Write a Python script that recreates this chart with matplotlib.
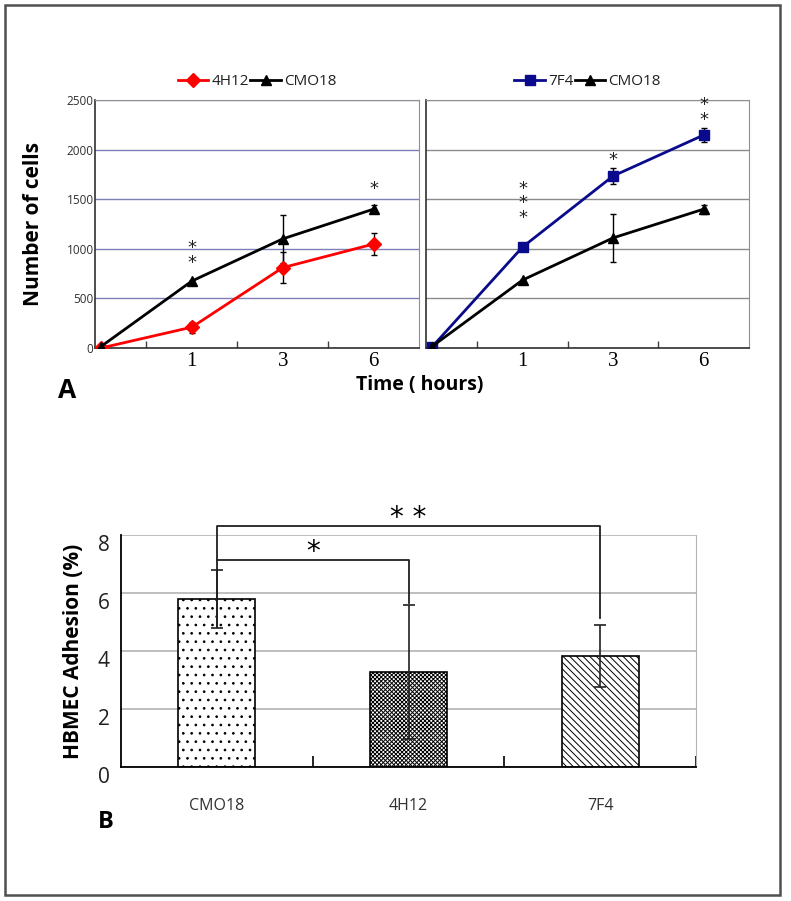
import numpy as np
import matplotlib
matplotlib.use("Agg")
import matplotlib.pyplot as plt
from matplotlib.patches import Rectangle
from matplotlib.transforms import ScaledTranslation

# panel A data: number of adhered cells over time
hours = ["0", "1", "3", "6"]
cmo18_left = [15, 675, 1100, 1400]
cmo18_left_err = [0, 15, 240, 40]
h4h12 = [0, 210, 810, 1048]
h4h12_err = [0, 55, 155, 110]

f7f4 = [10, 1018, 1734, 2147]
f7f4_err = [0, 20, 85, 75]
cmo18_right = [15, 685, 1110, 1400]
cmo18_right_err = [0, 15, 240, 45]

# significance stars (time index, value, number of stars)
stars_left = [(1, 930, 2), (3, 1600, 1)]
stars_right = [(1, 1460, 3), (2, 1900, 1), (3, 2375, 2)]

# panel B data
groups = ["CMO18", "4H12", "7F4"]
adhesion = [5.8, 3.28, 3.83]
adhesion_err = [1.0, 2.3, 1.08]
hatches = ["..", "xxxxxxxx", "\\\\\\\\\\"]

plt.rcParams["font.family"] = ["Open Sans", "DejaVu Sans"]
plt.rcParams["hatch.linewidth"] = 0.7

fig = plt.figure(figsize=(7.91, 9.01), dpi=100)
fig.patches.append(Rectangle((5/791, 1-895/901), 775/791, 890/901, transform=fig.transFigure,
                             fill=False, edgecolor="#505050", lw=1.8))

axL = fig.add_axes([95/791, 1-348/901, 324/791, 248/901])
axR = fig.add_axes([426/791, 1-348/901, 323/791, 248/901])

x = np.arange(len(hours))


def line_panel(ax, series, gridcol, stars):
    handles, labels = [], []
    for vals, err, col, mk, lab in series:
        c = ax.errorbar(x, vals, yerr=err, color=col, marker=mk, ms=7, lw=2,
                        ecolor="black", elinewidth=1, capsize=2.5, capthick=1, zorder=3)
        handles.append(c[0])
        labels.append(lab)
    ax.set_xlim(-0.066, 3.5)
    ax.set_ylim(0, 2500)
    ax.set_yticks([0, 500, 1000, 1500, 2000, 2500])
    ax.grid(axis="y", color=gridcol, lw=1)
    ax.set_axisbelow(True)
    ax.set_xticks(x[1:])
    ax.set_xticklabels(hours[1:], family="Liberation Serif", fontsize=15)
    ax.set_xticks([0.5, 1.5, 2.5], minor=True)
    ax.tick_params(axis="x", which="major", length=0, pad=3)
    ax.tick_params(axis="x", which="minor", direction="in", length=5, width=1, color="#404040")
    for s in ["top", "right"]:
        ax.spines[s].set_color("#909090")
    for s in ["left", "bottom"]:
        ax.spines[s].set_color("#303030")
        ax.spines[s].set_linewidth(1.2)
    for xi, yv, n in stars:
        ax.text(xi, yv, "\n".join(["*"] * n), ha="center", va="center", fontsize=13,
                family="DejaVu Sans", linespacing=0.75, color="#202020")
    ax.legend(handles, labels, loc="lower center", bbox_to_anchor=(0.5, 1.0), ncol=2, frameon=False,
              handlelength=2.0, handletextpad=0.2, columnspacing=0.1, fontsize=11,
              borderaxespad=0.3, labelcolor="#202020")


line_panel(axL, [(h4h12, h4h12_err, "#ff0000", "D", "4H12"),
                 (cmo18_left, cmo18_left_err, "black", "^", "CMO18")], "#7f7fb8", stars_left)
line_panel(axR, [(f7f4, f7f4_err, "#0a0a8c", "s", "7F4"),
                 (cmo18_right, cmo18_right_err, "black", "^", "CMO18")], "#8a8a8a", stars_right)

axL.tick_params(axis="y", length=0, pad=1, labelsize=8.5, labelcolor="#303030")
axR.tick_params(axis="y", length=0, labelleft=False)
axL.set_ylabel("Number of cells", fontsize=15, fontweight="bold", labelpad=16)
fig.text(420/791, 1-385/901, "Time ( hours)", ha="center", va="center", fontsize=14, fontweight="bold")
fig.text(67/791, 1-390/901, "A", ha="center", va="center", fontsize=19, fontweight="bold")

# panel B
axB = fig.add_axes([121/791, 1-767/901, 575/791, 232/901])
xb = np.arange(len(groups))
for i in range(len(groups)):
    axB.bar(xb[i], adhesion[i], width=0.4, color="white", edgecolor="black", lw=1.2,
            hatch=hatches[i], zorder=2)
axB.errorbar(xb, adhesion, yerr=adhesion_err, fmt="none", ecolor="#202020", elinewidth=1.2,
             capsize=4, capthick=1.2, zorder=3)
axB.set_xlim(-0.5, 2.5)
axB.set_ylim(0, 8)
axB.set_yticks([0, 2, 4, 6, 8])
axB.grid(axis="y", color="#b4b4b4", lw=1.2)
axB.set_axisbelow(True)
axB.set_xticks(xb)
axB.set_xticklabels(groups, fontsize=11.5, color="#303030")
axB.set_xticks([0.5, 1.5, 2.5], minor=True)
axB.tick_params(axis="x", which="major", length=0, pad=22)
axB.tick_params(axis="x", which="minor", direction="in", length=8, width=1.2)
axB.tick_params(axis="y", length=0, pad=8, labelsize=15, labelcolor="#202020")
for lab in axB.get_yticklabels():
    lab.set_transform(lab.get_transform() + ScaledTranslation(0, -8/100, fig.dpi_scale_trans))
axB.spines["top"].set_visible(False)
axB.spines["right"].set_color("#b4b4b4")
axB.spines["left"].set_linewidth(1.3)
axB.spines["bottom"].set_linewidth(1.3)
axB.set_ylabel("HBMEC Adhesion (%)", fontsize=15, fontweight="bold", labelpad=10)

# significance brackets
axB.plot([xb[0], xb[0], xb[2], xb[2]], [4.83, 8.31, 8.31, 5.14], color="#202020", lw=1.3, clip_on=False)
axB.plot([xb[0], xb[0], xb[1], xb[1]], [7.14, 7.14, 7.14, 5.65], color="#202020", lw=1.3, clip_on=False)
axB.text(0.5, 7.4, "*", ha="center", va="center", fontsize=20, family="DejaVu Sans")
axB.text(1.0, 8.6, "* *", ha="center", va="center", fontsize=20, family="DejaVu Sans")
fig.text(106/791, 1-822/901, "B", ha="center", va="center", fontsize=17, fontweight="bold")

fig.savefig("out.png", dpi=100)
